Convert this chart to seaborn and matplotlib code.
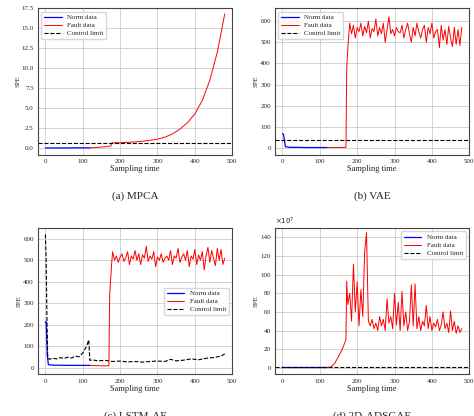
import numpy as np
import seaborn as sns
import matplotlib.pyplot as plt

sns.set_theme(style="whitegrid")
plt.rcParams['font.family'] = ['Liberation Serif', 'DejaVu Serif']

# (a) MPCA
a_norm_x = [0, 20, 40, 60, 80, 100, 120]
a_norm_y = [0.05, 0.05, 0.05, 0.05, 0.06, 0.06, 0.06]
a_fault_x = [120, 140, 160, 175, 178, 200, 220, 240, 260, 280, 300, 320, 340, 360, 380, 400, 420, 440, 460, 480]
a_fault_y = [0.06, 0.12, 0.2, 0.3, 0.7, 0.7, 0.75, 0.8, 0.9, 1.0, 1.15, 1.4, 1.8, 2.4, 3.2, 4.3, 6.0, 8.5, 12.0, 16.8]
a_limit = 0.7

# (b) VAE
b_norm_x = [0, 3, 8, 20, 40, 60, 80, 100, 120]
b_norm_y = [70, 65, 8, 5, 5, 4, 4, 4, 4]
b_fault_x = [120, 150, 170, 172, 176] + list(range(180, 481, 5))
b_fault_y = [4, 4, 5, 380, 500,
             590, 540, 580, 520, 570, 550, 590, 530, 575, 545, 600, 520, 565, 550, 610,
             530, 570, 540, 590, 500, 560, 620, 540, 560, 530, 570, 550, 545, 580, 520,
             560, 590, 540, 500, 570, 530, 590, 550, 520, 560, 580, 500, 570, 540, 590,
             520, 550, 560, 475, 580, 510, 560, 490, 575, 520, 480, 570, 490, 560, 485, 570]
b_limit = 38

# (c) LSTM-AE
c_norm_x = [0, 2, 5, 8, 20, 60, 100, 120]
c_norm_y = [210, 215, 60, 15, 13, 12, 12, 12]
c_fault_x = [120, 150, 170, 172, 178] + list(range(180, 481, 5))
c_fault_y = [12, 10, 10, 340, 500,
             540, 500, 520, 490, 515, 530, 495, 510, 540, 480, 520, 505, 545, 500, 530,
             480, 525, 510, 565, 495, 520, 505, 540, 470, 515, 500, 530, 490, 510, 520,
             500, 545, 480, 520, 510, 555, 490, 515, 530, 500, 545, 470, 520, 505, 550,
             480, 525, 500, 540, 455, 520, 560, 490, 545, 510, 475, 555, 500, 550, 480, 510]
c_limit_x = [0, 2, 4, 6, 10, 20, 30, 40, 50, 60, 70, 80, 90, 100, 110, 116, 119, 125, 140, 160,
             180, 200, 220, 240, 260, 280, 300, 320, 335, 350, 370, 390, 410, 430, 450, 470, 480]
c_limit_y = [620, 500, 250, 60, 40, 45, 42, 48, 44, 50, 46, 55, 52, 70, 100, 130, 35, 38, 33, 35,
             30, 32, 28, 30, 27, 30, 32, 30, 40, 33, 36, 42, 38, 45, 48, 55, 65]

# (d) 2D-ADSGAE
d_norm_x = [0, 40, 80, 120]
d_norm_y = [0.5, 0.5, 0.5, 0.5]
d_fault_x = [120, 130, 140, 150, 160, 170, 172] + list(range(175, 481, 5))
d_fault_y = [0.5, 1, 5, 12, 20, 30, 93,
             68, 80, 50, 111, 60, 92, 45, 84, 55, 124, 145, 50, 45, 52, 42, 48, 40, 55,
             45, 52, 40, 74, 48, 55, 42, 80, 46, 70, 40, 82, 45, 60, 40, 50, 89, 45, 90,
             42, 55, 40, 50, 45, 67, 42, 55, 40, 48, 44, 52, 40, 46, 60, 42, 48, 38, 61,
             40, 50, 37, 45, 38, 42]
d_limit = 0.5

panels = [
    ("(a) MPCA", a_norm_x, a_norm_y, a_fault_x, a_fault_y, a_limit),
    ("(b) VAE", b_norm_x, b_norm_y, b_fault_x, b_fault_y, b_limit),
    ("(c) LSTM-AE", c_norm_x, c_norm_y, c_fault_x, c_fault_y, (c_limit_x, c_limit_y)),
    ("(d) 2D-ADSGAE", d_norm_x, d_norm_y, d_fault_x, d_fault_y, d_limit),
]

fig, axes = plt.subplots(2, 2, figsize=(4.74, 4.16), dpi=100)
axes = axes.flatten()

for i, (title, nx, ny, fx, fy, lim) in enumerate(panels):
    ax = axes[i]
    sns.lineplot(x=nx, y=ny, ax=ax, color='blue', lw=0.9, label='Norm data')
    sns.lineplot(x=fx, y=fy, ax=ax, color='red', lw=0.7, label='Fault data')
    if isinstance(lim, tuple):
        sns.lineplot(x=lim[0], y=lim[1], ax=ax, color='black', lw=0.8, ls='--', label='Control limit')
    else:
        ax.axhline(lim, color='black', lw=0.8, ls='--', label='Control limit')
    ax.set_xlim(-20, 500)
    ax.set_xticks([0, 100, 200, 300, 400, 500])
    ax.set_xlabel('Sampling time', fontsize=6, labelpad=1)
    ax.set_ylabel('SPE', fontsize=5, labelpad=1)
    ax.tick_params(labelsize=5, pad=1, length=2)
    for s in ax.spines.values():
        s.set_color('#444444')
        s.set_linewidth(0.8)
    ax.grid(color='#cccccc', lw=0.6)
    ax.set_title(title, y=-0.36, fontsize=8)
    loc = {0: 'upper left', 1: 'upper left', 2: 'center right', 3: 'upper right'}[i]
    ax.legend(loc=loc, fontsize=5, frameon=True, handlelength=2.5, borderpad=0.4, labelspacing=0.3)

axes[0].set_ylim(-0.8, 17.5)
axes[0].set_yticks(np.arange(0, 17.6, 2.5))
axes[1].set_ylim(-30, 660)
axes[2].set_ylim(-30, 650)
axes[3].set_ylim(-7, 150)
axes[3].text(0, 1.01, r'$\times10^{7}$', transform=axes[3].transAxes, fontsize=5, va='bottom')

plt.subplots_adjust(left=0.08, right=0.99, top=0.98, bottom=0.1, wspace=0.22, hspace=0.5)
plt.savefig('out.png', dpi=100)
